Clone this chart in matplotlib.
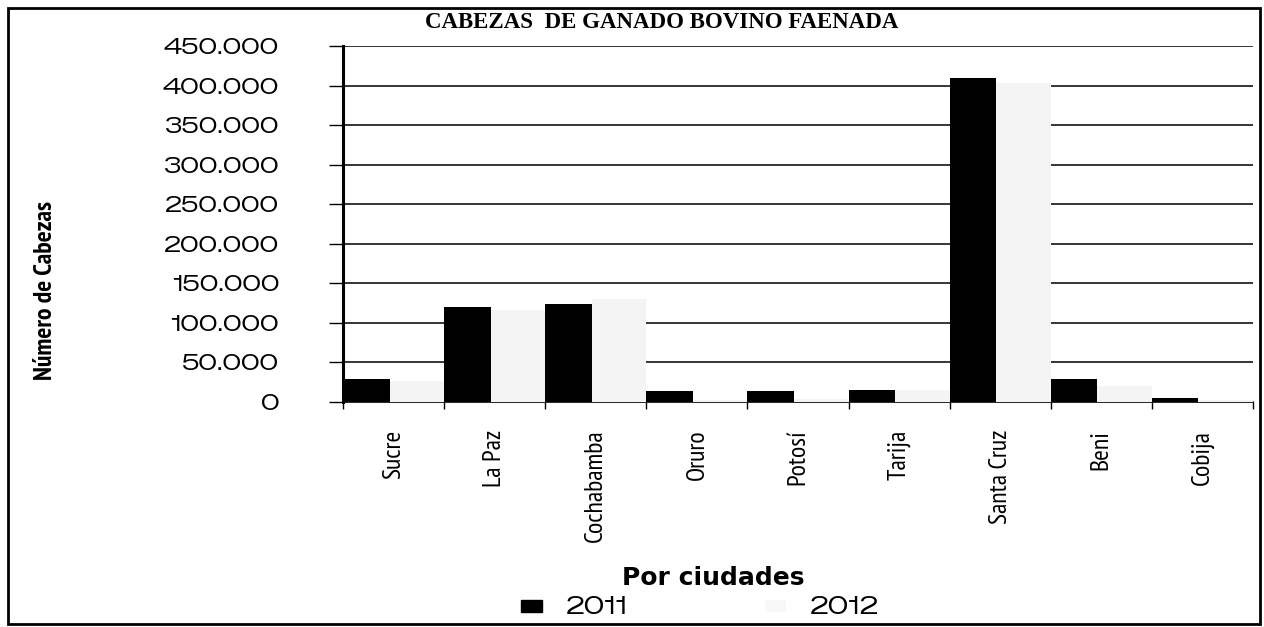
import matplotlib
matplotlib.use("Agg")
import matplotlib.pyplot as plt
import numpy as np
from matplotlib.patches import Rectangle, Patch

# ---------------- data ----------------
cities = ['Sucre', 'La Paz', 'Cochabamba', 'Oruro', 'Potosí', 'Tarija',
          'Santa Cruz', 'Beni', 'Cobija']
v2011 = [29500, 119500, 124000, 14000, 14500, 15500, 409000, 29500, 4500]
v2012 = [27000, 116000, 130000, 3000, 4000, 15000, 403000, 20000, 2500]
series_names = ['2011', '2012']
ytick_values = [0, 50000, 100000, 150000, 200000, 250000, 300000, 350000, 400000, 450000]
ytick_labels = ['0', '50.000', '100.000', '150.000', '200.000', '250.000',
                '300.000', '350.000', '400.000', '450.000']
title = 'CABEZAS  DE GANADO BOVINO FAENADA'
ylabel = 'Número de Cabezas'
xlabel = 'Por ciudades'

WIDE = ['Zalando Sans Expanded', 'DejaVu Sans']
NARROW = ['PT Sans Narrow', 'DejaVu Sans']

W, H = 1264, 627
fig = plt.figure(figsize=(W / 100, H / 100), dpi=100)
fig.patch.set_facecolor('white')

ax = fig.add_axes([343 / W, 1 - 402 / H, (1253 - 343) / W, (402 - 46) / H])

x = np.arange(len(cities))
w1, w2 = 0.46, 0.54
ax.bar(x - 0.5, v2011, width=w1, align='edge', color='black', zorder=3)
ax.bar(x - 0.5 + w1, v2012, width=w2, align='edge', color='#f4f4f4', zorder=3)

ax.set_xlim(-0.5, len(cities) - 0.5)
ax.set_ylim(0, 450000)
ax.set_yticks(ytick_values)
ax.set_yticklabels(ytick_labels, fontsize=15.5, family=WIDE)
ax.yaxis.grid(True, color='black', linewidth=1.1, zorder=0)
ax.set_axisbelow(True)

ax.set_xticks(x)
ax.set_xticklabels(cities, rotation=90, fontsize=18.5, family=NARROW,
                   va='top', ha='center')
ax.tick_params(axis='x', length=0, pad=20)
ax.set_xticks(np.arange(len(cities) + 1) - 0.5, minor=True)
ax.tick_params(axis='x', which='minor', length=5, width=1, direction='out', color='black')
ax.tick_params(axis='y', length=10, width=1, direction='out', pad=36, color='black')

for s in ['top', 'right']:
    ax.spines[s].set_visible(False)
ax.spines['left'].set_linewidth(2.2)
ax.spines['bottom'].set_linewidth(1.2)

# title
fig.text(662 / W, 1 - 22 / H, title, ha='center', va='center',
         family='Liberation Serif', fontweight='bold', fontsize=16.5)
# y label
fig.text(46 / W, 1 - 290 / H, ylabel, rotation=90, ha='center', va='center',
         family=NARROW, fontweight='bold', fontsize=18.5)
# x label
fig.text(713 / W, 1 - 578 / H, xlabel, ha='center', va='center',
         family='DejaVu Sans', fontweight='bold', fontsize=18)

# legend
handles = [Patch(facecolor='black', edgecolor='black'),
           Patch(facecolor='#f8f8f8', edgecolor='none')]
leg = fig.legend(handles, series_names, loc='center', ncol=2,
                 bbox_to_anchor=(700 / W, 1 - 608 / H), frameon=False,
                 prop={'family': WIDE, 'size': 17},
                 handlelength=0.9, handleheight=0.35, handletextpad=1.0,
                 columnspacing=5.8)

# outer frame
fig.add_artist(Rectangle((8 / W, 3 / H), (1260 - 8) / W, (619 - 3) / H,
                         transform=fig.transFigure, fill=False,
                         edgecolor='black', linewidth=2))

fig.savefig('out.png', dpi=100, facecolor='white')
